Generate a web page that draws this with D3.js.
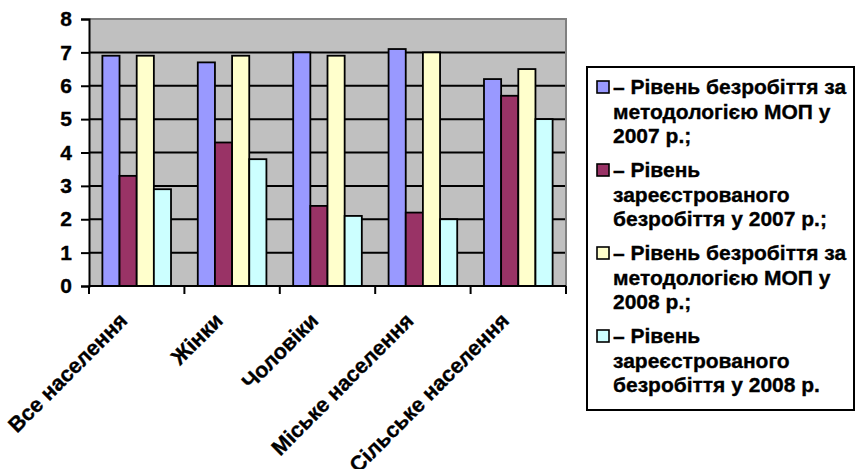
<!DOCTYPE html>
<html>
<head>
<meta charset="utf-8">
<script src="https://cdn.jsdelivr.net/npm/d3@7"></script>
<style>
  html, body { margin: 0; padding: 0; background: #fff; }
  svg { display: block; }
  text { font-family: Arial, "Liberation Sans", sans-serif; font-weight: bold; fill: #000; stroke: #000; stroke-width: 0.35px; }
</style>
</head>
<body>
<svg id="chart" width="856" height="469"></svg>
<script>
// Categories of population
const categories = ["Все населення", "Жінки", "Чоловіки", "Міське населення", "Сільське населення"];

// Unemployment rates, %
const iloRate2007 = [6.9, 6.7, 7.0, 7.1, 6.2];
const registeredRate2007 = [3.3, 4.3, 2.4, 2.2, 5.7];
const iloRate2008 = [6.9, 6.9, 6.9, 7.0, 6.5];
const registeredRate2008 = [2.9, 3.8, 2.1, 2.0, 5.0];

const seriesNames = ["ilo2007", "reg2007", "ilo2008", "reg2008"];
const seriesValues = [iloRate2007, registeredRate2007, iloRate2008, registeredRate2008];
const seriesColors = ["#9999FF", "#993366", "#FFFFCC", "#CCFFFF"];

// Legend entries, one array of lines per series
const legendLines = [
  ["– Рівень безробіття за", "методологією МОП у", "2007 р.;"],
  ["– Рівень", "зареєстрованого", "безробіття у 2007 р.;"],
  ["– Рівень безробіття за", "методологією МОП у", "2008 р.;"],
  ["– Рівень", "зареєстрованого", "безробіття у 2008 р."]
];

const yTicks = [0, 1, 2, 3, 4, 5, 6, 7, 8];

const svg = d3.select("#chart");
const plot = { left: 89, right: 566, top: 19, bottom: 286 };

const y = d3.scaleLinear().domain([0, 8]).range([plot.bottom, plot.top]);
const x0 = d3.scaleBand().domain(categories).range([plot.left, plot.right]).padding(0);
const x1 = d3.scaleBand().domain(seriesNames).range([0, x0.bandwidth()])
  .paddingInner(0).paddingOuter(0.78);

// plot background
svg.append("rect")
  .attr("x", plot.left).attr("y", plot.top)
  .attr("width", plot.right - plot.left).attr("height", plot.bottom - plot.top)
  .attr("fill", "#C0C0C0");

// gridlines
svg.append("g")
  .selectAll("line")
  .data(yTicks.filter(t => t > 0 && t < 8))
  .join("line")
  .attr("x1", plot.left).attr("x2", plot.right)
  .attr("y1", d => y(d)).attr("y2", d => y(d))
  .attr("stroke", "#000").attr("stroke-width", 2);

// top and right border of the plot area
svg.append("path")
  .attr("d", `M${plot.left},${y(8)}H${plot.right}V${plot.bottom}`)
  .attr("fill", "none").attr("stroke", "#808080").attr("stroke-width", 2);

// bars
const rows = categories.map((c, i) => ({
  category: c,
  values: seriesNames.map((s, j) => ({ key: s, value: seriesValues[j][i], color: seriesColors[j] }))
}));

svg.append("g")
  .selectAll("g")
  .data(rows)
  .join("g")
  .attr("transform", d => `translate(${x0(d.category)},0)`)
  .selectAll("rect")
  .data(d => d.values)
  .join("rect")
  .attr("x", d => x1(d.key))
  .attr("y", d => y(d.value))
  .attr("width", x1.bandwidth())
  .attr("height", d => y(0) - y(d.value))
  .attr("fill", d => d.color)
  .attr("stroke", "#000")
  .attr("stroke-width", 1.8);

// y axis
const yAxis = svg.append("g")
  .attr("transform", `translate(${plot.left},0)`)
  .call(d3.axisLeft(y).tickValues(yTicks).tickFormat(d3.format("d")).tickSize(8).tickPadding(9));
yAxis.select(".domain").attr("stroke", "#000").attr("stroke-width", 2);
yAxis.selectAll(".tick line").attr("stroke", "#000").attr("stroke-width", 2);
yAxis.selectAll(".tick text")
  .attr("font-family", "Arial, 'Liberation Sans', sans-serif")
  .attr("font-weight", "bold").attr("font-size", 21).attr("fill", "#000");

// x axis with ticks at category boundaries
const xAxis = svg.append("g")
  .attr("transform", `translate(0,${plot.bottom})`);
xAxis.append("line")
  .attr("x1", plot.left).attr("x2", plot.right)
  .attr("stroke", "#000").attr("stroke-width", 2);
const boundaries = categories.map(c => x0(c)).concat([plot.right]);
xAxis.selectAll("line.tick")
  .data(boundaries)
  .join("line")
  .attr("class", "tick")
  .attr("x1", d => d).attr("x2", d => d)
  .attr("y1", 0).attr("y2", 8)
  .attr("stroke", "#000").attr("stroke-width", 2);

// rotated category labels
svg.append("g")
  .selectAll("text")
  .data(categories)
  .join("text")
  .attr("transform", d => `translate(${x0(d) + x0.bandwidth() / 2 - 8},${plot.bottom + 36}) rotate(-45)`)
  .attr("text-anchor", "end")
  .attr("font-size", 21.5)
  .text(d => d);

// legend
const legend = svg.append("g");
legend.append("rect")
  .attr("x", 587).attr("y", 67).attr("width", 267).attr("height", 343)
  .attr("fill", "#fff").attr("stroke", "#000").attr("stroke-width", 2);

const lineStep = 24.5, groupStep = 83, firstLine = 87;
const items = legend.selectAll("g.item")
  .data(legendLines)
  .join("g")
  .attr("class", "item")
  .attr("transform", (d, i) => `translate(0,${firstLine + i * groupStep})`);

items.append("rect")
  .attr("x", 597).attr("y", -6).attr("width", 12).attr("height", 12)
  .attr("fill", (d, i) => seriesColors[i])
  .attr("stroke", "#000").attr("stroke-width", 1.6);

items.selectAll("text")
  .data(d => d)
  .join("text")
  .attr("x", 613)
  .attr("y", (d, k) => k * lineStep)
  .attr("dy", "0.35em")
  .attr("font-size", 21)
  .text(d => d);
</script>
</body>
</html>
